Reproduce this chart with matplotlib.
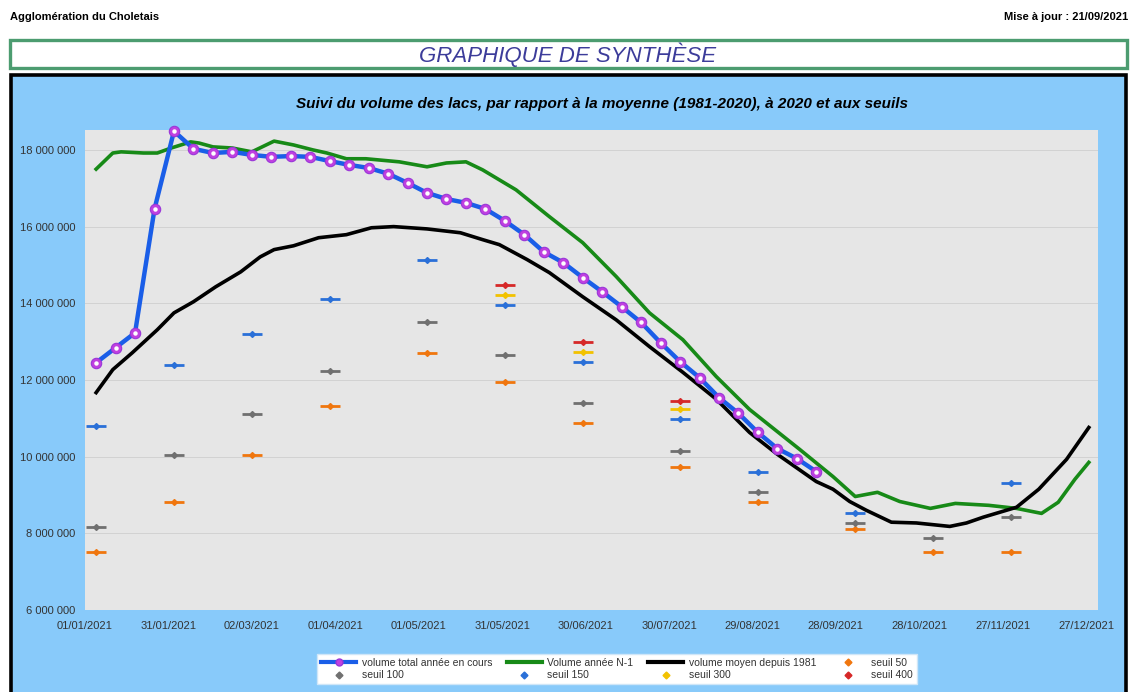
import numpy as np
import pandas as pd
import matplotlib
matplotlib.use("Agg")
import matplotlib.pyplot as plt
import matplotlib.patches as patches
from matplotlib.lines import Line2D
from matplotlib.ticker import FuncFormatter

plt.rcParams['font.family'] = ['Liberation Sans', 'DejaVu Sans']

# --- données (volumes en millions de m3) ---
# volume total année en cours : relevés hebdomadaires à partir du 05/01/2021
debut_releves = '2021-01-05'
vol_total = [12.45, 12.84, 13.23, 16.46, 18.49, 18.03, 17.92, 17.95, 17.87, 17.82,
             17.84, 17.82, 17.71, 17.61, 17.53, 17.38, 17.14, 16.88, 16.72, 16.62,
             16.46, 16.15, 15.79, 15.34, 15.06, 14.67, 14.30, 13.91, 13.50, 12.97,
             12.48, 12.06, 11.54, 11.13, 10.63, 10.21, 9.95, 9.61]

# volume moyen depuis 1981 (jour de l'année, valeur)
jours_moy = [4, 10, 17, 26, 32, 39, 47, 56, 63, 68, 75, 84, 94, 103, 111, 123, 135,
             143, 149, 159, 167, 179, 191, 203, 215, 227, 239, 249, 263, 269, 275,
             281, 290, 299, 311, 317, 323, 335, 343, 353, 361]
vol_moyen = [11.67, 12.27, 12.71, 13.31, 13.75, 14.04, 14.43, 14.82, 15.21, 15.40,
             15.50, 15.71, 15.79, 15.97, 16.00, 15.94, 15.84, 15.66, 15.53, 15.14,
             14.80, 14.17, 13.57, 12.87, 12.20, 11.50, 10.63, 10.06, 9.35, 9.15,
             8.83, 8.60, 8.29, 8.27, 8.18, 8.27, 8.42, 8.68, 9.15, 9.93, 10.76]

# volume année N-1
jours_n1 = [4, 10, 13, 21, 26, 31, 38, 41, 46, 53, 60, 68, 75, 82, 87, 94, 101, 113,
            123, 130, 137, 143, 149, 155, 167, 179, 191, 203, 215, 227, 239, 257,
            269, 277, 285, 293, 304, 313, 325, 335, 344, 350, 356, 361]
vol_n1 = [17.50, 17.92, 17.95, 17.92, 17.92, 18.05, 18.21, 18.18, 18.08, 18.05,
          17.95, 18.23, 18.13, 18.00, 17.92, 17.77, 17.77, 17.69, 17.56, 17.66,
          17.69, 17.48, 17.22, 16.96, 16.26, 15.58, 14.70, 13.75, 13.05, 12.09,
          11.23, 10.19, 9.48, 8.96, 9.07, 8.83, 8.65, 8.78, 8.73, 8.65, 8.52,
          8.81, 9.41, 9.85]

# seuils mensuels
dates_seuils = ['2021-01-05', '2021-02-02', '2021-03-02', '2021-03-30', '2021-05-04',
                '2021-06-01', '2021-06-29', '2021-08-03', '2021-08-31', '2021-10-05',
                '2021-11-02', '2021-11-30']
seuil_50 = [7.51, 8.83, 10.03, 11.31, 12.71, 11.96, 10.89, 9.74, 8.81, 8.10, 7.51, 7.51]
seuil_100 = [8.16, 10.03, 11.10, 12.24, 13.52, 12.64, 11.39, 10.16, 9.07, 8.26, 7.87, 8.42]
seuil_150 = [10.81, 12.40, 13.21, 14.12, 15.14, 13.96, 12.48, 10.97, 9.61, 8.52, np.nan, 9.30]
seuil_300 = [np.nan] * 5 + [14.22, 12.74, 11.23] + [np.nan] * 4
seuil_400 = [np.nan] * 5 + [14.48, 13.00, 11.46] + [np.nan] * 4

tick_dates = pd.date_range('2021-01-01', periods=13, freq='30D')

# --- mise en page ---
W, H = 1137, 692
fig = plt.figure(figsize=(W / 100, H / 100), dpi=100)
fig.patch.set_facecolor('white')


def box(x0, y0, x1, y1):
    # pixels (origine en haut à gauche) -> coordonnées figure
    return (x0 / W, 1 - y1 / H), (x1 - x0) / W, (y1 - y0) / H


fig.text(10 / W, 1 - 17 / H, 'Agglomération du Choletais', fontsize=8, fontweight='bold',
         va='center', ha='left')
fig.text(1128 / W, 1 - 17 / H, 'Mise à jour : 21/09/2021', fontsize=8, fontweight='bold',
         va='center', ha='right')

xy, w, h = box(10, 40, 1127, 68)
fig.add_artist(patches.Rectangle(xy, w, h, transform=fig.transFigure, facecolor='white',
                                 edgecolor='#4c9c70', lw=2.4, zorder=-2))
fig.text(568 / W, 1 - 55 / H, 'GRAPHIQUE DE SYNTHÈSE', fontsize=16, style='italic',
         color='#3c3c9a', ha='center', va='center')

xy, w, h = box(11, 75, 1126, 700)
fig.add_artist(patches.Rectangle(xy, w, h, transform=fig.transFigure, facecolor='#88cafa',
                                 edgecolor='black', lw=2.6, zorder=-2))
fig.text(602 / W, 1 - 104 / H,
         'Suivi du volume des lacs, par rapport à la moyenne (1981-2020), à 2020 et aux seuils',
         fontsize=11, style='italic', fontweight='bold', ha='center', va='center')

(ax_x, ax_y), ax_w, ax_h = box(85, 130, 1098, 610)
ax = fig.add_axes([ax_x, ax_y, ax_w, ax_h])
ax.set_facecolor('#e6e6e6')
for s in ax.spines.values():
    s.set_visible(False)

t0 = pd.Timestamp('2021-01-01')
x_total = pd.date_range(debut_releves, periods=len(vol_total), freq='7D')
x_moy = t0 + pd.to_timedelta(jours_moy, unit='D')
x_n1 = t0 + pd.to_timedelta(jours_n1, unit='D')
x_seuils = pd.to_datetime(dates_seuils)

M = 1e6
ax.plot(x_n1, np.array(vol_n1) * M, color='#178a17', lw=2.6, zorder=3)
ax.plot(x_moy, np.array(vol_moyen) * M, color='black', lw=2.6, zorder=3)
ax.plot(x_total, np.array(vol_total) * M, color='#1a5ee8', lw=3.2, zorder=4, clip_on=False)
ax.plot(x_total, np.array(vol_total) * M, ls='none', marker='o', ms=7.5,
        mfc='#c040e0', mec='#9a36d8', mew=0.8, zorder=5, clip_on=False)
ax.plot(x_total, np.array(vol_total) * M, ls='none', marker='o', ms=2.2,
        mfc='white', mec='white', zorder=6, clip_on=False)

seuils = [(seuil_50, '#f0760e'), (seuil_100, '#707070'), (seuil_150, '#2a70d8'),
          (seuil_300, '#f2c200'), (seuil_400, '#d62828')]
for vals, col in seuils:
    v = np.array(vals) * M
    ax.plot(x_seuils, v, ls='none', marker='_', ms=15, mew=2.0, color=col, zorder=3)
    ax.plot(x_seuils, v, ls='none', marker='D', ms=3.0, color=col, zorder=3)

ax.set_ylim(6 * M, 18.52 * M)
ax.set_yticks(np.arange(6, 19, 2) * M)
ax.yaxis.set_major_formatter(FuncFormatter(lambda v, p: f'{v:,.0f}'.replace(',', ' ')))
ax.set_xlim(t0, t0 + pd.Timedelta(days=364.3))
ax.set_xticks(tick_dates)
ax.set_xticklabels([d.strftime('%d/%m/%Y') for d in tick_dates])
ax.tick_params(length=0, labelsize=8, colors='#333333')
ax.tick_params(axis='y', pad=7)
ax.tick_params(axis='x', pad=8)
ax.grid(axis='y', color='#d2d2d2', lw=0.7)
ax.set_axisbelow(True)

# légende
h_total = Line2D([], [], color='#1a5ee8', lw=3, marker='o', ms=5, mfc='#c040e0', mec='#9a36d8')
h_n1 = Line2D([], [], color='#178a17', lw=3)
h_moy = Line2D([], [], color='black', lw=3)
h_s = [Line2D([], [], ls='none', marker='D', ms=3.5, color=c) for _, c in seuils]
handles = [h_total, h_s[1], h_n1, h_s[2], h_moy, h_s[3], h_s[0], h_s[4]]
labels = ['volume total année en cours', 'seuil 100', 'Volume année N-1', 'seuil 150',
          'volume moyen depuis 1981', 'seuil 300', 'seuil 50', 'seuil 400']
leg = fig.legend(handles, labels, ncol=4, loc='center', bbox_to_anchor=(617 / W, 1 - 669 / H),
                 fontsize=7.5, frameon=True, fancybox=False, framealpha=1,
                 edgecolor='#cfe6f8', handlelength=3.4, handletextpad=0.5,
                 columnspacing=1.4, labelspacing=0.25, borderpad=0.35)
for t in leg.get_texts():
    t.set_color('#333333')

fig.savefig('out.png', dpi=100)
